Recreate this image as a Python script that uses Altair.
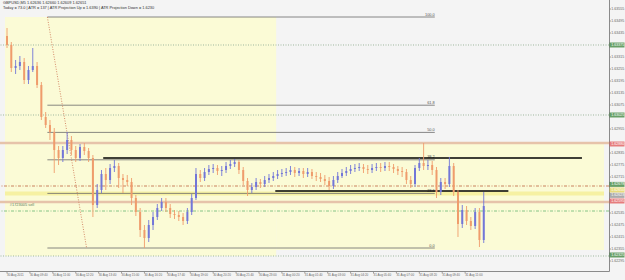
import altair as alt
import pandas as pd

# ---- 15-minute OHLC bars, GBPUSD, starting 30 Aug 2011 08:20 ----
opens = [1.63420,1.63375,1.63260,1.63270,1.63290,1.63200,1.63250,1.63270,1.63175,1.63015,
         1.62975,1.62940,1.62850,1.62810,1.62850,1.62900,1.62850,1.62810,1.62865,1.62845,
         1.62810,1.62575,1.62650,1.62730,1.62700,1.62760,1.62770,1.62710,1.62700,1.62690,
         1.62610,1.62540,1.62450,1.62410,1.62475,1.62515,1.62560,1.62590,1.62560,1.62530,
         1.62525,1.62515,1.62495,1.62540,1.62610,1.62730,1.62710,1.62740,1.62755,1.62760,
         1.62745,1.62750,1.62770,1.62780,1.62790,1.62750,1.62695,1.62650,1.62665,1.62690,
         1.62680,1.62700,1.62710,1.62720,1.62730,1.62735,1.62740,1.62750,1.62735,1.62745,
         1.62730,1.62740,1.62720,1.62715,1.62705,1.62695,1.62670,1.62700,1.62720,1.62735,
         1.62745,1.62755,1.62760,1.62765,1.62755,1.62750,1.62760,1.62765,1.62760,1.62770,
         1.62765,1.62755,1.62745,1.62740,1.62700,1.62680,1.62760,1.62785,1.62770,1.62775,
         1.62750,1.62640,1.62690,1.62680,1.62770,1.62640,1.62480,1.62550,1.62495,1.62470,
         1.62540,1.62400]
highs = [1.63460,1.63390,1.63300,1.63320,1.63310,1.63270,1.63360,1.63290,1.63190,1.63040,
         1.63000,1.62960,1.62870,1.62870,1.62940,1.62920,1.62870,1.62880,1.62885,1.62860,
         1.62825,1.62680,1.62750,1.62760,1.62780,1.62800,1.62785,1.62730,1.62725,1.62710,
         1.62625,1.62560,1.62475,1.62500,1.62540,1.62580,1.62610,1.62610,1.62580,1.62550,
         1.62545,1.62535,1.62560,1.62630,1.62760,1.62750,1.62760,1.62775,1.62780,1.62775,
         1.62770,1.62790,1.62800,1.62805,1.62800,1.62765,1.62710,1.62685,1.62710,1.62705,
         1.62720,1.62730,1.62740,1.62750,1.62755,1.62760,1.62770,1.62765,1.62760,1.62760,
         1.62760,1.62755,1.62740,1.62735,1.62725,1.62715,1.62720,1.62740,1.62755,1.62765,
         1.62775,1.62780,1.62785,1.62780,1.62775,1.62780,1.62785,1.62785,1.62790,1.62790,
         1.62780,1.62770,1.62765,1.62755,1.62720,1.62775,1.62810,1.62885,1.62800,1.62795,
         1.62765,1.62710,1.62710,1.62815,1.62785,1.62650,1.62575,1.62570,1.62515,1.62560,
         1.62560,1.62640]
lows = [1.63360,1.63240,1.63230,1.63250,1.63180,1.63180,1.63240,1.63160,1.63000,1.62960,
        1.62900,1.62735,1.62775,1.62790,1.62830,1.62825,1.62790,1.62795,1.62825,1.62790,
        1.62515,1.62560,1.62635,1.62650,1.62680,1.62740,1.62660,1.62635,1.62670,1.62575,
        1.62520,1.62415,1.62360,1.62390,1.62450,1.62500,1.62545,1.62540,1.62510,1.62505,
        1.62495,1.62475,1.62480,1.62525,1.62600,1.62690,1.62695,1.62725,1.62735,1.62725,
        1.62720,1.62735,1.62755,1.62765,1.62730,1.62675,1.62620,1.62635,1.62650,1.62660,
        1.62665,1.62685,1.62695,1.62705,1.62715,1.62720,1.62725,1.62715,1.62720,1.62710,
        1.62715,1.62705,1.62695,1.62690,1.62675,1.62650,1.62655,1.62685,1.62710,1.62720,
        1.62730,1.62740,1.62745,1.62735,1.62730,1.62735,1.62745,1.62740,1.62745,1.62745,
        1.62735,1.62725,1.62715,1.62680,1.62660,1.62665,1.62745,1.62750,1.62750,1.62725,
        1.62610,1.62625,1.62655,1.62665,1.62620,1.62415,1.62460,1.62475,1.62450,1.62455,
        1.62365,1.62385]
closes = [1.63375,1.63260,1.63270,1.63290,1.63200,1.63250,1.63270,1.63175,1.63015,1.62975,
          1.62940,1.62850,1.62810,1.62850,1.62900,1.62850,1.62810,1.62865,1.62845,1.62810,
          1.62575,1.62650,1.62730,1.62700,1.62760,1.62770,1.62710,1.62700,1.62690,1.62610,
          1.62540,1.62450,1.62410,1.62475,1.62515,1.62560,1.62590,1.62560,1.62530,1.62525,
          1.62515,1.62495,1.62540,1.62610,1.62730,1.62710,1.62740,1.62755,1.62760,1.62745,
          1.62750,1.62770,1.62780,1.62790,1.62750,1.62695,1.62650,1.62665,1.62690,1.62680,
          1.62700,1.62710,1.62720,1.62730,1.62735,1.62740,1.62750,1.62735,1.62745,1.62730,
          1.62740,1.62720,1.62715,1.62705,1.62695,1.62670,1.62700,1.62720,1.62735,1.62745,
          1.62755,1.62760,1.62765,1.62755,1.62750,1.62760,1.62765,1.62760,1.62770,1.62765,
          1.62755,1.62745,1.62740,1.62700,1.62680,1.62760,1.62785,1.62770,1.62775,1.62750,
          1.62640,1.62690,1.62680,1.62770,1.62640,1.62480,1.62550,1.62495,1.62470,1.62540,
          1.62400,1.62570]
bar_minutes = [15 * k for k in range(len(closes))]  # minutes after 30 Aug 08:20

x_tick_minutes = list(range(0, 1601, 80))
x_labels = ["30 Aug 2011", "30 Aug 09:40", "30 Aug 11:00", "30 Aug 12:20", "30 Aug 13:40",
            "30 Aug 15:00", "30 Aug 16:20", "30 Aug 17:40", "30 Aug 19:00", "30 Aug 20:20",
            "30 Aug 21:40", "30 Aug 23:00", "31 Aug 00:20", "31 Aug 01:40", "31 Aug 03:00",
            "31 Aug 04:20", "31 Aug 05:40", "31 Aug 07:00", "31 Aug 08:20", "31 Aug 09:40",
            "31 Aug 11:00"]
y_ticks = [1.63555, 1.63495, 1.63435, 1.63315, 1.63255, 1.63195, 1.63135, 1.63075,
           1.62955, 1.62835, 1.62775, 1.62715, 1.62535,
           1.62475, 1.62415, 1.62355, 1.62295]

# shaded day boxes
box_m1 = [-7, 940]
box_m2 = [940, 2085]
box_top = [1.63515, 1.62885]
box_bot = [1.62320, 1.62350]

# Fibonacci retracement
fib_levels = ["100.0", "61.8", "50.0", "38.2", "23.6", "0.0"]
fib_prices = [1.63515, 1.63074, 1.62938, 1.62801, 1.62633, 1.62360]
fib_start, fib_end = 141, 1494
trend_m = [141, 278]
trend_p = [1.63515, 1.62360]

# horizontal levels
dotted_levels = [1.63375, 1.63025, 1.62320]
tan_levels = [1.62885, 1.62590]
dashed_level = [1.62670]
dashdot_level = [1.62545]
band_top, band_bot = 1.62643, 1.62623
black_m1 = [336, 937]
black_m2 = [2008, 1751]
black_p = [1.62810, 1.62645]

# right-axis price tags
tag_prices = [1.63375, 1.63025, 1.62880, 1.62678, 1.62650, 1.62623, 1.62595, 1.62325]
tag_colors = ["#2b7a2b", "#2b7a2b", "#e04a4a", "#2b7a2b", "#e3d24a", "#8c8c8c", "#e04a4a", "#2b7a2b"]

header1 = "GBPUSD,M5 1.62636 1.62660 1.62609 1.62651"
header2 = "Today = 73.0  |  ATR = 137  |  ATR Projection Up = 1.6390  |  ATR Projection Down = 1.6230"
order_label = "#1723005 sell"
order_m, order_p = 10, 1.62565

W, H = 609, 271
XS = alt.Scale(domain=[-7, 2085], nice=False, zero=False)
YS = alt.Scale(domain=[1.62245, 1.63600], nice=False, zero=False)
FS = 3.9
FONT = "Liberation Sans"
AX = "#8a8a8a"

def X(f):
    return alt.X(f, scale=XS, axis=None)

def Y(f):
    return alt.Y(f, scale=YS, axis=None)

df = pd.DataFrame({"m": bar_minutes, "open": opens, "high": highs, "low": lows, "close": closes})
bg = pd.DataFrame({"m1": box_m1, "m2": box_m2, "p1": box_top, "p2": box_bot})

backgrounds = alt.Chart(bg).mark_rect(color="#fbfbd6").encode(
    x=X("m1:Q"), x2="m2:Q", y=Y("p1:Q"), y2="p2:Q")

band = alt.Chart(pd.DataFrame({"m1": [-7], "m2": [2085], "p1": [band_top], "p2": [band_bot]})).mark_rect(
    color="#f6f1a2").encode(x=X("m1:Q"), x2="m2:Q", y=Y("p1:Q"), y2="p2:Q")

def hrule(levels, **kw):
    return alt.Chart(pd.DataFrame({"p": levels})).mark_rule(**kw).encode(y=Y("p:Q"))

dotted = hrule(dotted_levels, color="#9db79d", strokeDash=[1, 1.5], strokeWidth=1)
tan = hrule(tan_levels, color="#e6c3aa", strokeWidth=2.5)
dashed = hrule(dashed_level, color="#c9825f", strokeDash=[3, 1.5, 1, 1.5], strokeWidth=1)
dashdot = hrule(dashdot_level, color="#86c486", strokeDash=[3, 1.5, 1, 1.5], strokeWidth=1)

fib_df = pd.DataFrame({"m1": [fib_start] * len(fib_prices), "m2": [fib_end] * len(fib_prices),
                       "p": fib_prices, "lvl": fib_levels})
fib_lines = alt.Chart(fib_df).mark_rule(color="#6a6a6a", strokeWidth=0.8).encode(
    x=X("m1:Q"), x2="m2:Q", y=Y("p:Q"))
fib_text = alt.Chart(fib_df).mark_text(align="right", baseline="bottom", dy=-0.5, fontSize=FS,
                                       color="#555", font=FONT).encode(
    x=X("m2:Q"), y=Y("p:Q"), text="lvl:N")

trend = alt.Chart(pd.DataFrame({"m": trend_m, "p": trend_p})).mark_line(
    color="#d58a68", strokeDash=[1, 1.5], strokeWidth=1).encode(x=X("m:Q"), y=Y("p:Q"))

black = alt.Chart(pd.DataFrame({"m1": black_m1, "m2": black_m2, "p": black_p})).mark_rule(
    color="#000000", strokeWidth=1.5).encode(x=X("m1:Q"), x2="m2:Q", y=Y("p:Q"))

updown = alt.condition("datum.close >= datum.open", alt.value("#7276d8"), alt.value("#ef9c6c"))
wicks = alt.Chart(df).mark_rule(strokeWidth=0.9).encode(
    x=X("m:Q"), y=Y("low:Q"), y2="high:Q", color=updown)
bodies = alt.Chart(df).mark_bar(width=2).encode(
    x=X("m:Q"), y=Y("open:Q"), y2="close:Q", color=updown)

order_txt = alt.Chart(pd.DataFrame({"m": [order_m], "p": [order_p], "t": [order_label]})).mark_text(
    align="left", baseline="bottom", fontSize=FS, color="#5a7a5a", font=FONT).encode(
    x=X("m:Q"), y=Y("p:Q"), text="t:N")

# axes drawn as layers
right_line = alt.Chart(pd.DataFrame({"a": [0]})).mark_rule(color=AX, strokeWidth=1).encode(
    x=alt.value(W + 0.5), y=alt.value(0), y2=alt.value(H + 0.5))
bottom_line = alt.Chart(pd.DataFrame({"a": [0]})).mark_rule(color=AX, strokeWidth=1).encode(
    x=alt.value(0), x2=alt.value(W + 0.5), y=alt.value(H + 0.5))

yt_df = pd.DataFrame({"p": y_ticks})
y_tickmarks = alt.Chart(yt_df).mark_rule(color=AX, strokeWidth=0.8).encode(
    x=alt.value(W + 0.5), x2=alt.value(W + 2), y=Y("p:Q"))
y_labels = alt.Chart(yt_df).mark_text(align="left", baseline="middle", fontSize=3.6,
                                      color="#666", font=FONT).encode(
    x=alt.value(W + 2.2), y=Y("p:Q"), text=alt.Text("p:Q", format=".5f"))

xt_df = pd.DataFrame({"m": x_tick_minutes, "t": x_labels})
x_tickmarks = alt.Chart(xt_df).mark_rule(color=AX, strokeWidth=0.8).encode(
    x=X("m:Q"), y=alt.value(H + 0.5), y2=alt.value(H + 2.5))
x_text = alt.Chart(xt_df).mark_text(align="left", baseline="top", fontSize=3.0,
                                    color="#666", font=FONT).encode(
    x=X("m:Q"), y=alt.value(H + 3), text="t:N")

tags_df = pd.DataFrame({"p": tag_prices, "c": tag_colors})
tags = alt.Chart(tags_df).mark_tick(orient="horizontal", size=15, thickness=5).encode(
    x=alt.value(W + 8), y=Y("p:Q"), color=alt.Color("c:N", scale=None))
tags_txt = alt.Chart(tags_df).mark_text(align="left", baseline="middle", fontSize=3.6,
                                        color="white", font=FONT).encode(
    x=alt.value(W + 2.2), y=Y("p:Q"), text=alt.Text("p:Q", format=".5f"))

hdr1 = alt.Chart(pd.DataFrame({"t": [header1]})).mark_text(
    align="left", baseline="top", fontSize=FS, color="#333", font=FONT).encode(
    x=alt.value(3), y=alt.value(1), text="t:N")
hdr2 = alt.Chart(pd.DataFrame({"t": [header2]})).mark_text(
    align="left", baseline="top", fontSize=FS, color="#333", font=FONT).encode(
    x=alt.value(3), y=alt.value(6), text="t:N")

chart = alt.layer(backgrounds, band, dotted, tan, dashed, dashdot, fib_lines, fib_text, trend,
                  black, wicks, bodies, order_txt, right_line, bottom_line, y_tickmarks, y_labels,
                  x_tickmarks, x_text, tags, tags_txt, hdr1, hdr2).properties(
    width=W, height=H,
    autosize=alt.AutoSizeParams(type="none"),
    padding={"left": 0, "top": 0, "right": 16, "bottom": 9},
    background="#f4f4f4",
).configure_view(stroke=None, fill="#f4f4f4")

chart.save("out.html", embed_options={"renderer": "svg", "actions": False})
